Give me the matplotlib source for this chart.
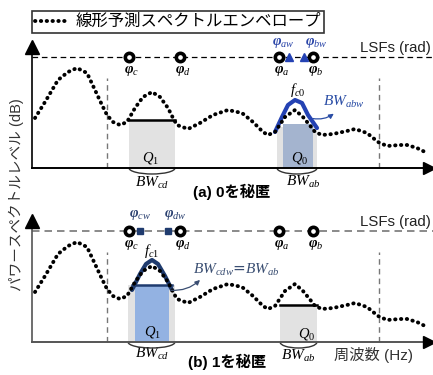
import numpy as np
import matplotlib
matplotlib.use('Agg')
import matplotlib.pyplot as plt
from matplotlib.patches import Rectangle, Arc, FancyArrowPatch
from matplotlib.lines import Line2D

plt.rcParams['mathtext.fontset'] = 'custom'
plt.rcParams['mathtext.it'] = 'Liberation Serif:italic'
plt.rcParams['mathtext.rm'] = 'Liberation Serif'
plt.rcParams['mathtext.bf'] = 'Liberation Serif:bold:italic'

JP = ['Liberation Sans', 'Noto Sans CJK JP']

# LPC spectral envelope: frequency position, level above the frequency axis
env_x = [35, 45, 58, 68, 77, 87, 95, 102, 107, 113, 120, 127, 135, 143, 152, 160,
         168, 173, 177, 188, 200, 213, 228, 242, 253, 263, 268, 275, 285, 295, 303,
         312, 315, 322, 333, 347, 355, 367, 378, 387, 400, 407, 417, 425]
env_y = [50, 66, 88, 96, 100, 95, 78, 63, 53, 46, 43, 46, 60, 71, 76, 71,
         60, 50, 43, 39, 45, 53, 58, 55, 46, 36, 33, 36, 51, 58, 51,
         40, 36, 33, 34, 37, 39, 35, 26, 22, 23, 23, 20, 16]

# LSF positions (rad axis drawn on top)
lsf_level = 111
lsf_x = [129, 180, 279, 313]
lsf_names = ['c', 'd', 'a', 'b']
band_lines = [107, 379]

# panel (a): hide 0 -> widen formant between a,b
a_w_x = [289, 304]
a_arch_x = [275, 282, 288, 295, 302, 308, 317]
a_arch_y = [36, 51, 63, 68, 65, 53, 40]
# panel (b): hide 1 -> widen formant between c,d
b_w_x = [140, 168]
b_arch_x = [132, 140, 146, 152, 158, 165, 172]
b_arch_y = [52, 68, 78, 82, 78, 66, 52]

# regions (left, right, top level)
q1_a = (129, 175, 48)
q0_a = (277, 317, 41)
q0_a_in = (283, 313, 44)
q1_b = (128, 175, 57)
q1_b_in = (135, 169, 57)
q0_b = (280, 317, 37)

W, H = 433, 375
fig = plt.figure(figsize=(W / 100, H / 100), dpi=100)


def make_axes(base):
    ax = fig.add_axes([0, 0, 1, 1])
    ax.set_xlim(0, W)
    ax.set_ylim(-(H - base), base)
    ax.axis('off')
    ax.patch.set_alpha(0)
    return ax


def brace(ax, left, right):
    ax.add_patch(Arc(((left + right) / 2, 0), right - left, 12, theta1=180, theta2=360,
                     color='#333333', lw=1.0, zorder=4))


def phi(n):
    return r'$\mathbf{\varphi}_{%s}$' % n


def draw_common(ax, axis_col, lsf_col, lsf_lw):
    ax.plot([32, 428], [0, 0], color=axis_col, lw=1.4, zorder=5)
    ax.plot([32, 32], [0, 118], color=axis_col, lw=1.2, zorder=5)
    ax.plot([32], [121], marker='^', ms=10, color='black', zorder=6)
    ax.plot([429], [0], marker='>', ms=9, color='black', zorder=6)
    ax.plot([32, 433], [lsf_level, lsf_level], color=lsf_col, lw=lsf_lw,
            dashes=(4.5, 3), zorder=2)
    for bx in band_lines:
        ax.plot([bx, bx], [0, 90], color='#777777', lw=1.0, dashes=(4, 3), zorder=2)
    ax.plot(env_x, env_y, color='black', lw=2.8, dashes=(0.1, 1.4),
            dash_capstyle='round', zorder=7)
    ax.plot(lsf_x, [lsf_level] * 4, 'o', ms=6, mfc='white', mec='black', mew=2.6, zorder=8)
    for x, n in zip(lsf_x, lsf_names):
        ax.text(x + 3, lsf_level - 14, phi(n), fontsize=10.5,
                ha='center', va='center', zorder=8)
    ax.text(395, lsf_level + 9, 'LSFs (rad)', family='Liberation Sans', fontsize=10.8,
            ha='center', va='center', color='#222222')


# ---------------- panel (a) ----------------
ax = make_axes(168)
draw_common(ax, 'black', 'black', 0.9)
for (l, r, t), c in [(q1_a, '#e2e2e2'), (q0_a, '#e2e2e2'), (q0_a_in, '#a4b4cf')]:
    ax.add_patch(Rectangle((l, 0), r - l, t, color=c, lw=0, zorder=1))
ax.plot([q1_a[0], q1_a[1]], [q1_a[2], q1_a[2]], color='black', lw=1.8, zorder=6)
ax.plot(a_arch_x, a_arch_y, color='#2442b3', lw=3, solid_joinstyle='round',
        solid_capstyle='round', zorder=6)
ax.plot(a_w_x, [lsf_level] * 2, '^', ms=6, color='#2442b3', zorder=9)
ax.text(283, lsf_level + 15, phi('aw'), color='#2a45a8', fontsize=10.5,
        ha='center', va='center')
ax.text(316, lsf_level + 15, phi('bw'), color='#2a45a8', fontsize=10.5,
        ha='center', va='center')
ax.text(298, 78, r'$f_{c0}$', fontsize=10.5, ha='center', va='center')
ax.text(344, 66, r'$BW_{abw}$', color='#2a4da5', fontsize=11, ha='center', va='center')
ax.add_patch(FancyArrowPatch((310, 50), (336, 56), connectionstyle='arc3,rad=0.25',
                             arrowstyle='-|>', mutation_scale=7, color='#2a4da5', lw=0.9,
                             zorder=9))
ax.text(151, 10, r'$Q_1$', fontsize=10.5, ha='center', va='center', zorder=6)
ax.text(300, 10, r'$Q_0$', fontsize=10.5, ha='center', va='center', zorder=6)
brace(ax, q1_a[0], q1_a[1])
brace(ax, q0_a[0], q0_a[1])
ax.text(152, -15, r'$BW_{cd}$', fontsize=11, ha='center', va='center')
ax.text(303, -14, r'$BW_{ab}$', fontsize=11, ha='center', va='center')
ax.text(232, -24, '(a) 0を秘匿', family=JP, fontsize=11, weight='bold',
        ha='center', va='center')
ax.text(16, -27, 'パワースペクトルレベル (dB)', family=JP, fontsize=10.5, rotation=90,
        ha='center', va='center', color='#333333')
handle = Line2D([], [], color='black', lw=2.8, dashes=(0.1, 1.4), dash_capstyle='round')
leg = ax.legend([handle], ['線形予測スペクトルエンベロープ'], loc='upper left',
                bbox_to_anchor=(32 / W, 1 - 11 / H), bbox_transform=fig.transFigure,
                prop={'family': JP, 'size': 11.8}, frameon=True, fancybox=False,
                borderpad=0.2, handlelength=2.0, handletextpad=0.45, borderaxespad=0)
leg.get_frame().set_edgecolor('black')
leg.get_frame().set_linewidth(1.2)

# ---------------- panel (b) ----------------
ax = make_axes(342)
draw_common(ax, '#555555', '#777777', 1.2)
for (l, r, t), c in [(q1_b, '#e2e2e2'), (q1_b_in, '#93b2e2'), (q0_b, '#e2e2e2')]:
    ax.add_patch(Rectangle((l, 0), r - l, t, color=c, lw=0, zorder=1))
ax.plot([q0_b[0], q0_b[1]], [q0_b[2], q0_b[2]], color='black', lw=1.8, zorder=6)
ax.plot([b_arch_x[0], b_arch_x[-1]], [q1_b[2], q1_b[2]], color='#1f3b6e', lw=1.8, zorder=6)
ax.plot(b_arch_x, b_arch_y, color='#1f3b6e', lw=3, solid_joinstyle='round',
        solid_capstyle='round', zorder=6)
ax.plot(b_w_x, [lsf_level] * 2, 's', ms=5, color='#1f3b6e', zorder=9)
ax.text(140, lsf_level + 16, phi('cw'), color='#2a4070', fontsize=10.5,
        ha='center', va='center')
ax.text(175, lsf_level + 16, phi('dw'), color='#2a4070', fontsize=10.5,
        ha='center', va='center')
ax.text(152, 91, r'$f_{c1}$', fontsize=10.5, ha='center', va='center')
ax.text(236, 72, r'$BW_{cdw}$=$BW_{ab}$', color='#3a4e72', fontsize=11,
        ha='center', va='center')
ax.add_patch(FancyArrowPatch((168, 52), (202, 64), connectionstyle='arc3,rad=0.25',
                             arrowstyle='-|>', mutation_scale=7, color='#3a4e72', lw=0.9,
                             zorder=9))
ax.text(153, 10, r'$Q_1$', fontsize=10.5, ha='center', va='center', zorder=6)
ax.text(307, 8, r'$Q_0$', fontsize=10.5, ha='center', va='center', zorder=6)
brace(ax, q1_b[0], q1_b[1])
brace(ax, q0_b[0], q0_b[1])
ax.text(152, -12, r'$BW_{cd}$', fontsize=11, ha='center', va='center')
ax.text(298, -14, r'$BW_{ab}$', fontsize=11, ha='center', va='center')
ax.text(227, -20, '(b) 1を秘匿', family=JP, fontsize=11, weight='bold',
        ha='center', va='center')
ax.text(374, -13, '周波数 (Hz)', family=JP, fontsize=11, ha='center', va='center',
        color='#333333')

fig.savefig('out.png', dpi=100)
